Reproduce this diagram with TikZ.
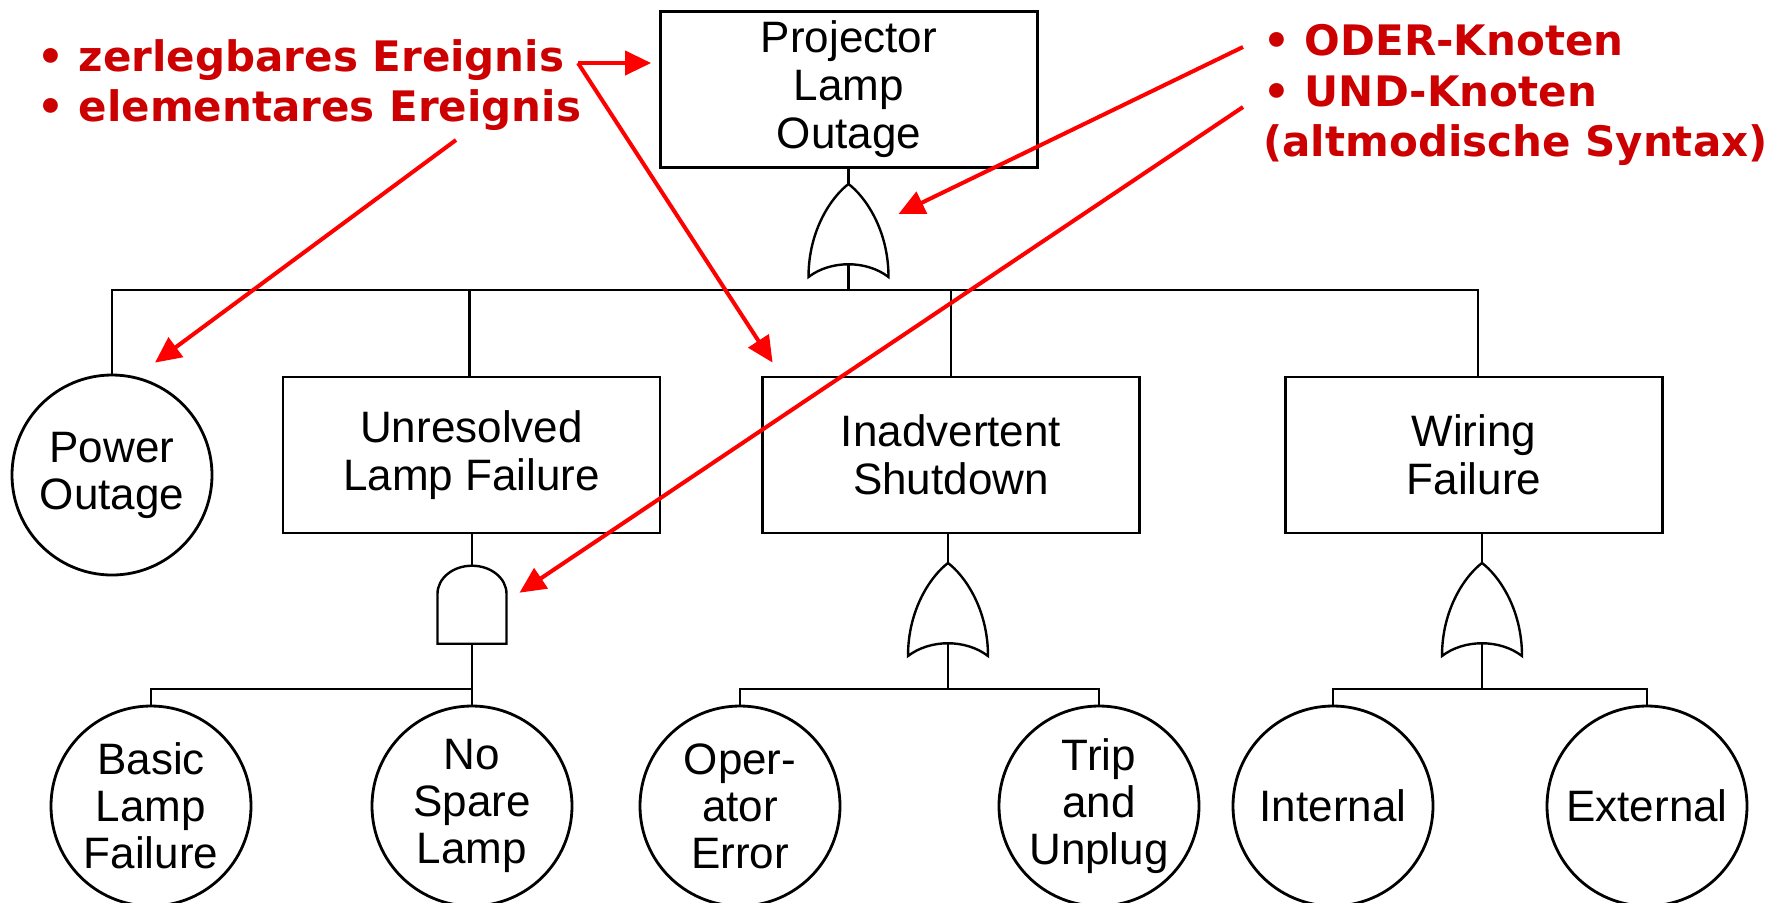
\documentclass[tikz,border=0pt]{standalone}
\usepackage{fontspec}
\setmainfont{Liberation Sans}
\newfontfamily\notefont{DejaVu Sans}
\usepackage{tikz}
\usetikzlibrary{calc,arrows.meta,positioning}
\usepackage{xcolor}
\definecolor{notered}{RGB}{204,0,0}
\definecolor{hintred}{RGB}{255,0,0}

\begin{document}
\begin{tikzpicture}[x=0.5pt,y=0.5pt,
  ev/.style={draw,line width=1.4pt,minimum width=188.5pt,minimum height=78pt,inner sep=0pt,align=center,font=\fontsize{22}{24}\selectfont},
  leaf/.style={draw,circle,line width=1.4pt,minimum size=100pt,inner sep=0pt,align=center,font=\fontsize{22}{23.5}\selectfont},
  note/.style={anchor=base west,inner sep=0pt,text=notered,font=\notefont\bfseries\fontsize{21}{25}\selectfont},
  hint/.style={-{Triangle[length=13pt,width=12pt]},draw=hintred,line width=2pt},
  tree/.style={line width=1.4pt},
  orgate/.pic={
    \draw[line width=1.2pt] (-40,-93) .. controls (-40,-45) and (-16,-12) .. (0,0)
      .. controls (16,-12) and (40,-45) .. (40,-93)
      .. controls (18,-76) and (-18,-76) .. cycle;
    \coordinate (-in) at (0,0);
    \coordinate (-out) at (0,-80);
  },
  andgate/.pic={
    \draw[line width=1.2pt] (-34.5,-78) -- (-34.5,-28) arc[start angle=180,end angle=0,x radius=34.5,y radius=28] -- (34.5,-78) -- cycle;
    \coordinate (-in) at (0,0);
    \coordinate (-out) at (0,-78);
  }]
  \useasboundingbox (0,0) rectangle (1789,-902);

  % Top event and its OR gate
  \node[ev] (PLO) at (849,-89.5) {Projector\\Lamp\\Outage};
  \pic (G0) at (848.5,-184) {orgate};
  \coordinate (B0) at (0,-290);

  % Second level
  \node[leaf] (PO)  at (112,-475)  {Power\\Outage};
  \node[ev]   (ULF) at (471.5,-455) {Unresolved\\Lamp Failure};
  \node[ev]   (IS)  at (951,-455)  {Inadvertent\\Shutdown};
  \node[ev]   (WF)  at (1474,-455) {Wiring\\Failure};

  % Gates below the second level
  \pic (G1) at (472,-565.7) {andgate};
  \pic (G2) at (948,-563)   {orgate};
  \pic (G3) at (1482,-563)  {orgate};
  \coordinate (B1) at (0,-689);

  % Basic events
  \node[leaf] (BLF) at (151,-806)  {Basic\\Lamp\\Failure};
  \node[leaf] (NSL) at (472,-806)  {No\\Spare\\Lamp};
  \node[leaf] (OE)  at (740,-806)  {Oper-\\ator\\Error};
  \node[leaf] (TU)  at (1099,-806) {Trip\\and\\Unplug};
  \node[leaf] (IN)  at (1333,-806) {Internal};
  \node[leaf] (EX)  at (1647,-806) {External};

  % Tree connections
  \draw[tree] (G0-in |- PLO.south) -- (G0-in);
  \draw[tree] (G0-out) -- (G0-out |- B0) -| (PO.north);
  \draw[tree] (G0-out) -- (G0-out |- B0) -| ($(ULF.north)+(-2,0)$);
  \draw[tree] (G0-out) -- (G0-out |- B0) -| (IS.north);
  \draw[tree] (G0-out) -- (G0-out |- B0) -| ($(WF.north)+(4,0)$);

  \draw[tree] (G1-in |- ULF.south) -- (G1-in);
  \draw[tree] (G1-out) -- (G1-out |- B1) -| (BLF.north);
  \draw[tree] (G1-out) -- (NSL.north);

  \draw[tree] (G2-in |- IS.south) -- (G2-in);
  \draw[tree] (G2-out) -- (G2-out |- B1) -| (OE.north);
  \draw[tree] (G2-out) -- (G2-out |- B1) -| (TU.north);

  \draw[tree] (G3-in |- WF.south) -- (G3-in);
  \draw[tree] (G3-out) -- (G3-out |- B1) -| (IN.north);
  \draw[tree] (G3-out) -- (G3-out |- B1) -| (EX.north);

  % Annotations (red)
  \node[note] (zer)  at (37,-71)     {• zerlegbares Ereignis};
  \node[note] (ele)  at (37,-121)    {• elementares Ereignis};
  \node[note] (oder) at (1263,-55)   {• ODER-Knoten};
  \node[note] (und)  at (1263,-106.7) {• UND-Knoten};
  \node[note] (alt)  at (1263,-156.7) {(altmodische Syntax)};

  \coordinate (zer-out)  at (578,-63);
  \coordinate (ele-out)  at (456,-140);
  \coordinate (oder-out) at (1243,-47);
  \coordinate (und-out)  at (1243,-107);

  \draw[hint] (zer-out) -- ($(zer-out -| PLO.west)+(-8,0)$);
  \draw[hint] (zer-out) -- ($(IS.north west)+(11.5,13)$);
  \draw[hint] (ele-out) -- ($(PO.north)+(43,11)$);
  \draw[hint] (oder-out) -- ($(G0-in)+(50,-30)$);
  \draw[hint] (und-out) -- ($(G1-in)+(47.5,-27)$);
\end{tikzpicture}
\end{document}
